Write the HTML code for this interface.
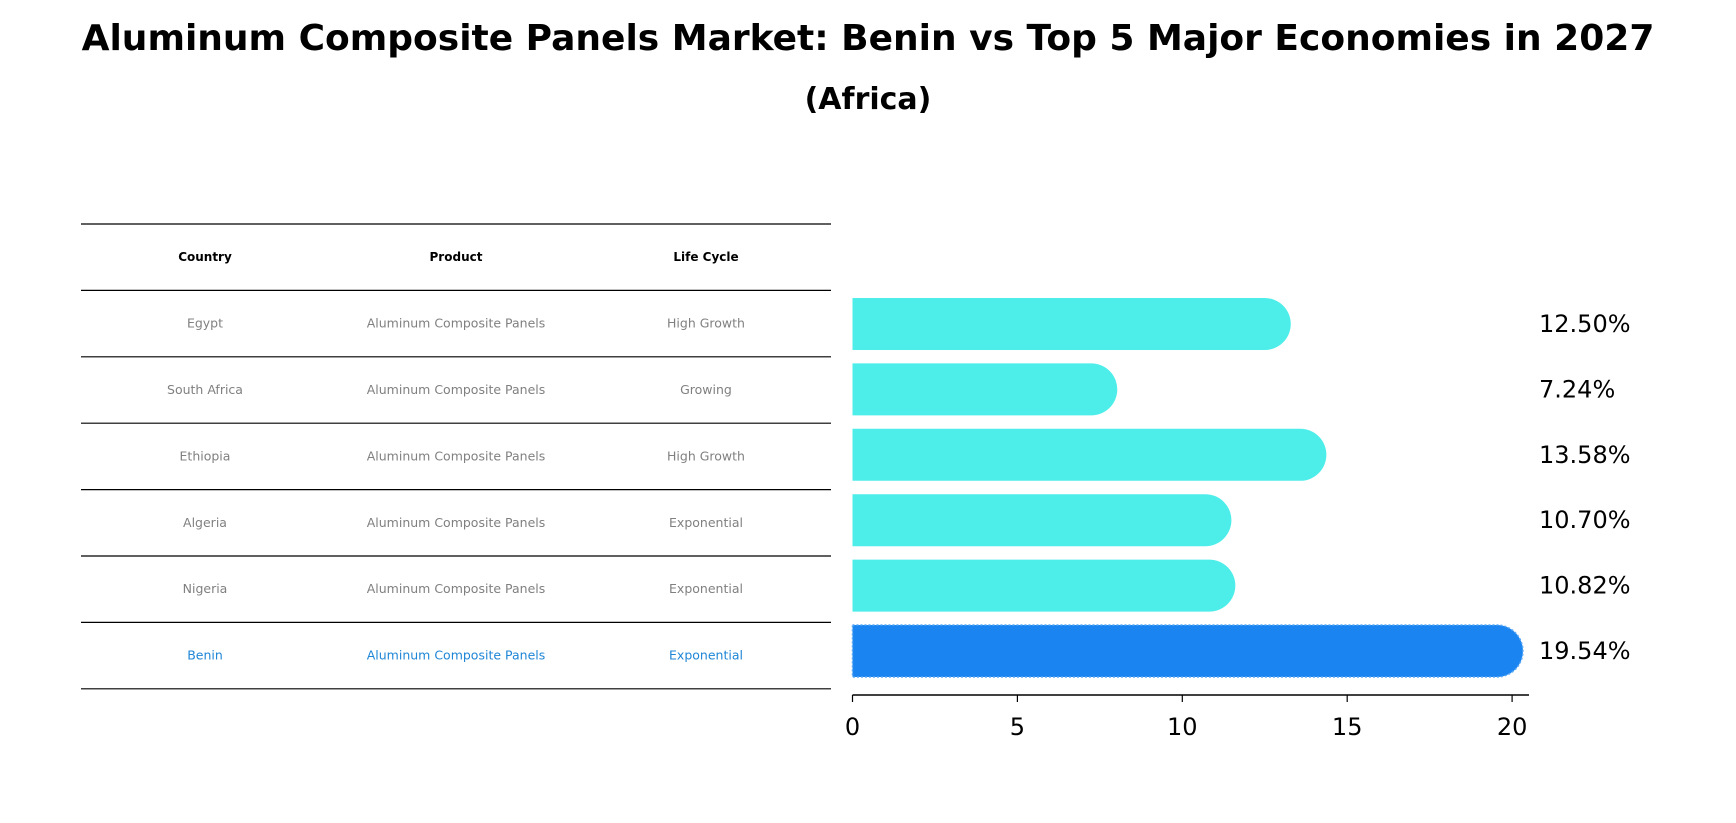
<!DOCTYPE html>
<html><head><meta charset="utf-8"><style>
body{margin:0;background:#fff;}
svg{display:block;font-family:"DejaVu Sans","Liberation Sans",sans-serif;}
</style></head><body>
<svg id="c" width="1736" height="823" viewBox="0 0 1736 823">
<text x="868" y="50" text-anchor="middle" font-size="36" font-weight="bold">Aluminum Composite Panels Market: Benin vs Top 5 Major Economies in 2027</text>
<text x="868" y="109" text-anchor="middle" font-size="30" font-weight="bold">(Africa)</text>
<g id="table"></g>
<g id="bars"></g>
</svg>
<script>
const countries=["Egypt","South Africa","Ethiopia","Algeria","Nigeria","Benin"];
const products=["Aluminum Composite Panels","Aluminum Composite Panels","Aluminum Composite Panels","Aluminum Composite Panels","Aluminum Composite Panels","Aluminum Composite Panels"];
const lifecycles=["High Growth","Growing","High Growth","Exponential","Exponential","Exponential"];
const values=[12.50,7.24,13.58,10.70,10.82,19.54];
const ticks=[0,5,10,15,20];
const NS="http://www.w3.org/2000/svg";
function mk(t,a,p){const e=document.createElementNS(NS,t);for(const k in a)e.setAttribute(k,a[k]);p.appendChild(e);return e;}
const tb=document.getElementById('table'), bg=document.getElementById('bars');
const tx0=81,tx1=831,rowTop=224,rowH=66.4,colX=[205,456,706];
for(let i=0;i<=countries.length+1;i++){
  const l=mk('line',{x1:tx0,x2:tx1,y1:rowTop+i*rowH,y2:rowTop+i*rowH,stroke:'#000','stroke-width':1.2},tb);
  
  
}
["Country","Product","Life Cycle"].forEach((h,j)=>{
  const t=mk('text',{x:colX[j],y:rowTop+rowH/2+4,'text-anchor':'middle','font-size':12,'font-weight':'bold'},tb);
  t.textContent=h;
  
  
});
countries.forEach((c,i)=>{
  const y=rowTop+(i+1)*rowH+rowH/2+4;
  const col=c==="Benin"?'#1f86d6':'#808080';
  [c,products[i],lifecycles[i]].forEach((v,j)=>{
    const t=mk('text',{x:colX[j],y:y,'text-anchor':'middle','font-size':12.5,fill:col},tb);
    t.textContent=v;
    
    
  });
});
const x0=852.5,unit=32.98;
const xs=v=>x0+v*unit;
const yc=i=>324+i*65.4;
const bh=52;
values.forEach((v,i)=>{
  const isB=countries[i]==="Benin";
  const col=isB?'#1a84f0':'#4deeea';
  const xe=xs(v);
  const p=mk('path',{d:`M${x0},${yc(i)-bh/2} L${xe},${yc(i)-bh/2} A${bh/2},${bh/2} 0 0 1 ${xe},${yc(i)+bh/2} L${x0},${yc(i)+bh/2} Z`,fill:col},bg);
  if(isB){p.setAttribute('stroke','#5aa8f5');p.setAttribute('stroke-dasharray','2 2');p.setAttribute('stroke-width','1.5');}
  
  
  const t=mk('text',{x:1539,y:yc(i)+8,'font-size':24},bg);
  t.textContent=v.toFixed(2)+'%';
  
  
});
const ax=mk('line',{x1:x0,x2:1529,y1:695,y2:695,stroke:'#000','stroke-width':1.5},bg);


ticks.forEach(tv=>{
  const l=mk('line',{x1:xs(tv),x2:xs(tv),y1:695,y2:702,stroke:'#000','stroke-width':1.2},bg);
  
  
  const t=mk('text',{x:xs(tv),y:735,'text-anchor':'middle','font-size':24},bg);
  t.textContent=tv;
  
  
});
</script>
</body></html>
